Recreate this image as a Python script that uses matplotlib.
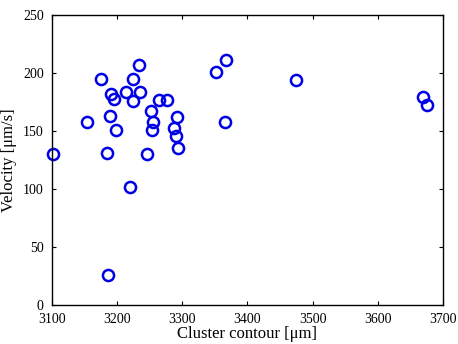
import matplotlib
matplotlib.use("Agg")
import matplotlib.pyplot as plt

plt.rcParams['font.family'] = ['Liberation Serif', 'DejaVu Serif']

# cluster contour [um] and velocity [um/s]
contour = [3101, 3154, 3176, 3190, 3195, 3189, 3199, 3185, 3220, 3186,
           3234, 3224, 3213, 3235, 3224, 3252, 3255, 3253, 3246, 3264,
           3277, 3292, 3288, 3291, 3294, 3352, 3367, 3365, 3475, 3670, 3675]
velocity = [130, 158, 195, 182, 178, 163, 151, 131, 102, 26,
            207, 195, 184, 184, 176, 167, 158, 151, 130, 177,
            177, 162, 153, 146, 135, 201, 211, 158, 194, 179, 172]

fig = plt.figure(figsize=(4.58, 3.44), dpi=100)
ax = fig.add_axes([0.1135, 0.1134, 0.8535, 0.8430])

ax.plot(contour, velocity, 'o', markerfacecolor='none', markeredgecolor='#0000e6',
        markersize=8, markeredgewidth=1.8, linestyle='none', clip_on=False)

ax.set_xlim(3100, 3700)
ax.set_ylim(0, 250)
ax.set_xticks(range(3100, 3701, 100))
ax.set_yticks(range(0, 251, 50))
ax.tick_params(direction='in', top=True, right=True, labelsize=10, length=3)
ax.tick_params(axis='x', pad=6)
ax.tick_params(axis='y', pad=6)
for s in ax.spines.values():
    s.set_linewidth(1.0)

ax.set_xlabel('Cluster contour [\u03bcm]', fontsize=12, labelpad=0)
ax.set_ylabel('Velocity [\u03bcm/s]', fontsize=12, labelpad=4)

fig.savefig('out.png', dpi=100)
